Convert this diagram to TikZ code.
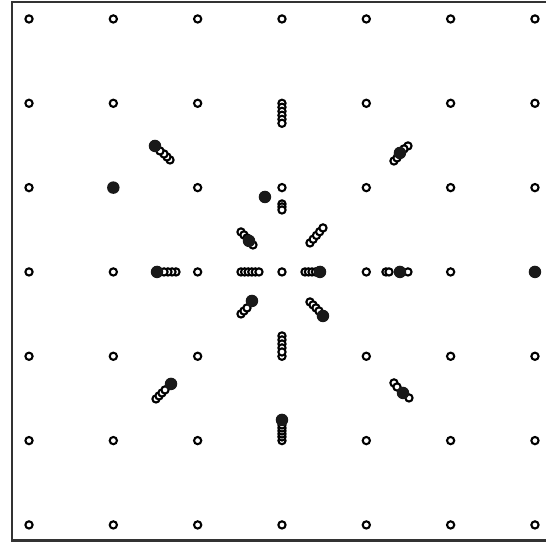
\documentclass[tikz,border=0pt]{standalone}
\usepackage{tikz}

\begin{document}
\begin{tikzpicture}[x=1cm,y=1cm,
  hole/.style={line width=0.7pt,fill=white},
  ball/.style={fill=black!90}]

\clip (-3.344,-3.214) rectangle (3.131,3.225);
\fill[white] (-3.344,-3.214) rectangle (3.131,3.225);
\draw[line width=0.75pt,black!80] (3.4,3.2) -- (-3.2,3.2) -- (-3.2,-3.185) -- (3.4,-3.185);

% lattice sites
\foreach \i in {-3,...,3}
  \foreach \j in {-3,...,3}
    \draw[hole] (\i,\j) circle (0.043);

% top column
\draw[hole] (0,1.953) circle (0.043);
\draw[hole] (0,1.905) circle (0.043);
\draw[hole] (0,1.858) circle (0.043);
\draw[hole] (0,1.810) circle (0.043);
\draw[hole] (0,1.763) circle (0.043);

% upper left
\draw[hole] (-1.328,1.328) circle (0.043);
\draw[hole] (-1.364,1.364) circle (0.043);
\draw[hole] (-1.399,1.399) circle (0.043);
\draw[hole] (-1.447,1.435) circle (0.043);
\fill[ball] (-1.506,1.494) circle (0.074);

% upper right
\draw[hole] (1.328,1.316) circle (0.043);
\draw[hole] (1.364,1.352) circle (0.043);
\draw[hole] (1.494,1.494) circle (0.043);
\draw[hole] (1.447,1.459) circle (0.043);
\fill[ball] (1.399,1.411) circle (0.074);

% near top
\draw[hole] (0,0.806) circle (0.043);
\draw[hole] (0,0.771) circle (0.043);
\draw[hole] (0,0.735) circle (0.043);
\fill[ball] (-0.202,0.889) circle (0.074);

% inner upper left
\draw[hole] (-0.486,0.474) circle (0.043);
\draw[hole] (-0.451,0.439) circle (0.043);
\draw[hole] (-0.344,0.320) circle (0.043);
\draw[hole] (-0.415,0.403) circle (0.043);
\fill[ball] (-0.391,0.368) circle (0.074);

% inner upper right
\draw[hole] (0.332,0.344) circle (0.043);
\draw[hole] (0.370,0.388) circle (0.043);
\draw[hole] (0.409,0.433) circle (0.043);
\draw[hole] (0.447,0.477) circle (0.043);
\draw[hole] (0.486,0.522) circle (0.043);

% inner left
\draw[hole] (-0.486,0) circle (0.043);
\draw[hole] (-0.443,0) circle (0.043);
\draw[hole] (-0.401,0) circle (0.043);
\draw[hole] (-0.358,0) circle (0.043);
\draw[hole] (-0.316,0) circle (0.043);
\draw[hole] (-0.273,0) circle (0.043);

% inner right
\draw[hole] (0.273,0) circle (0.043);
\draw[hole] (0.314,0) circle (0.043);
\draw[hole] (0.356,0) circle (0.043);
\draw[hole] (0.397,0) circle (0.043);
\fill[ball] (0.451,0) circle (0.074);

% inner lower left
\draw[hole] (-0.486,-0.498) circle (0.043);
\draw[hole] (-0.451,-0.463) circle (0.043);
\draw[hole] (-0.415,-0.427) circle (0.043);
\fill[ball] (-0.356,-0.344) circle (0.074);

% inner lower right
\draw[hole] (0.332,-0.356) circle (0.043);
\draw[hole] (0.368,-0.391) circle (0.043);
\draw[hole] (0.403,-0.427) circle (0.043);
\draw[hole] (0.439,-0.463) circle (0.043);
\fill[ball] (0.486,-0.522) circle (0.074);

% left
\draw[hole] (-1.257,0) circle (0.043);
\draw[hole] (-1.304,0) circle (0.043);
\draw[hole] (-1.352,0) circle (0.043);
\draw[hole] (-1.399,0) circle (0.043);
\fill[ball] (-1.482,0) circle (0.074);

% right
\draw[hole] (1.233,0) circle (0.043);
\draw[hole] (1.269,0) circle (0.043);
\draw[hole] (1.494,0) circle (0.043);
\fill[ball] (1.399,0) circle (0.074);

% lower column
\draw[hole] (0,-0.759) circle (0.043);
\draw[hole] (0,-0.806) circle (0.043);
\draw[hole] (0,-0.854) circle (0.043);
\draw[hole] (0,-0.901) circle (0.043);
\draw[hole] (0,-0.949) circle (0.043);

% lower left
\draw[hole] (-1.494,-1.506) circle (0.043);
\draw[hole] (-1.458,-1.470) circle (0.043);
\draw[hole] (-1.423,-1.435) circle (0.043);
\draw[hole] (-1.387,-1.399) circle (0.043);
\fill[ball] (-1.316,-1.328) circle (0.074);

% lower right
\draw[hole] (1.328,-1.316) circle (0.043);
\draw[hole] (1.364,-1.364) circle (0.043);
\draw[hole] (1.506,-1.494) circle (0.043);
\fill[ball] (1.435,-1.435) circle (0.074);

% bottom column
\draw[hole] (0,-1.956) circle (0.043);
\draw[hole] (0,-1.921) circle (0.043);
\draw[hole] (0,-1.885) circle (0.043);
\draw[hole] (0,-1.850) circle (0.043);
\draw[hole] (0,-1.814) circle (0.043);
\fill[ball] (0,-1.755) circle (0.074);

% lone charges
\fill[ball] (-2,1) circle (0.074);
\fill[ball] (3,0) circle (0.074);

\end{tikzpicture}
\end{document}
